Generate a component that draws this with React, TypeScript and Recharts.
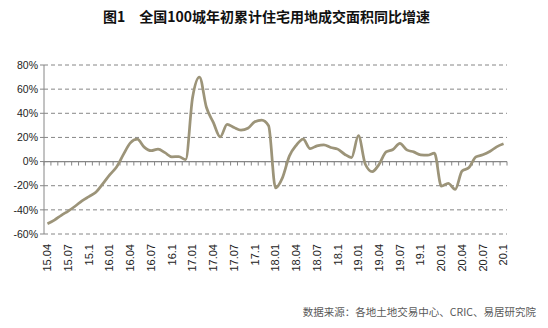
import { CartesianGrid, Line, LineChart, ReferenceLine, XAxis, YAxis } from 'recharts';

const months = [
  '15.04', '15.05', '15.06', '15.07', '15.08', '15.09', '15.1', '15.11', '15.12',
  '16.01', '16.02', '16.03', '16.04', '16.05', '16.06', '16.07', '16.08', '16.09', '16.1', '16.11', '16.12',
  '17.01', '17.02', '17.03', '17.04', '17.05', '17.06', '17.07', '17.08', '17.09', '17.1', '17.11', '17.12',
  '18.01', '18.02', '18.03', '18.04', '18.05', '18.06', '18.07', '18.08', '18.09', '18.1', '18.11', '18.12',
  '19.01', '19.02', '19.03', '19.04', '19.05', '19.06', '19.07', '19.08', '19.09', '19.1', '19.11', '19.12',
  '20.01', '20.02', '20.03', '20.04', '20.05', '20.06', '20.07', '20.08', '20.09', '20.1'
];

const growth = [
  -51.5, -48.5, -44.5, -41, -37, -32.5, -29, -25.5, -18.5,
  -11, -4.5, 6, 15.5, 18.5, 12, 9, 10.4, 7.4, 3.9, 4.1, 1.7,
  53, 70, 45, 32.5, 20.4, 30.9, 28.2, 26, 27.6, 32.9, 34.3, 29.6,
  -21.7, -13.5, 4.5, 13.5, 18.6, 10.8, 13, 13.9, 11.7, 10.3, 6.1, 3.3,
  21.4, -2.2, -8.3, -2.2, 8, 10, 15, 9.7, 8, 5.6, 5.3, 7,
  -20.3, -18, -23, -7.8, -5, 3.9, 5.6, 8.3, 12.2, 14.7
];

const yTicks = [-60, -40, -20, 0, 20, 40, 60, 80];

const data = months.map((month, idx) => ({ idx, month, value: growth[idx] }));
const labelTicks = data.filter((d) => d.idx % 3 === 0).map((d) => d.idx);
const boundaries = [...data.map((d) => d.idx - 0.5), data.length - 0.5];

const axisColor = '#868686';

function MonthTick(props: any) {
  const { x, y, payload } = props;
  const ty = y + 8;
  return (
    <text
      x={x}
      y={ty}
      transform={`rotate(-90, ${x}, ${ty})`}
      textAnchor="end"
      dy="0.35em"
      fontSize={11}
      fontFamily="Liberation Sans, Arial, sans-serif"
      fill="#222"
    >
      {months[payload.value]}
    </text>
  );
}

export default function App() {
  return (
    <div style={{ position: 'relative', width: 540, height: 320 }}>
      <div
        style={{
          position: 'absolute',
          left: 0,
          top: 0,
          width: 517,
          textAlign: 'center',
          fontFamily: '"Noto Sans CJK SC", sans-serif',
          fontWeight: 700,
          fontSize: 14,
          lineHeight: '16px',
          color: '#111',
        }}
      >
        图1　全国100城年初累计住宅用地成交面积同比增速
      </div>
      <LineChart width={540} height={320} data={data} margin={{ top: 57, right: 41, bottom: 0, left: 0 }}>
        <CartesianGrid vertical={false} stroke={axisColor} strokeDasharray="4 3" />
        <XAxis
          dataKey="idx"
          type="number"
          domain={[-0.5, data.length - 0.5]}
          ticks={labelTicks}
          interval={0}
          axisLine={false}
          tickLine={false}
          tickSize={0}
          height={94}
          tick={<MonthTick />}
        />
        <YAxis
          domain={[-60, 80]}
          ticks={yTicks}
          width={36}
          tickSize={4}
          tickMargin={2}
          tickFormatter={(v) => `${v}%`}
          axisLine={{ stroke: axisColor }}
          tickLine={{ stroke: axisColor }}
          tick={{ fontSize: 10.5, fill: '#222', fontFamily: 'Liberation Sans, Arial, sans-serif' }}
        />
        <ReferenceLine y={0} stroke={axisColor} strokeWidth={1.2} />
        {boundaries.map((b) => (
          <ReferenceLine
            key={b}
            segment={[
              { x: b, y: 0 },
              { x: b, y: -3.3 },
            ]}
            stroke={axisColor}
          />
        ))}
        <Line
          type="monotone"
          dataKey="value"
          stroke="#9c9479"
          strokeWidth={2.75}
          dot={false}
          isAnimationActive={false}
        />
      </LineChart>
      <div
        style={{
          position: 'absolute',
          right: 12,
          top: 296,
          fontFamily: '"Noto Sans CJK SC", sans-serif',
          fontSize: 10.5,
          color: '#595959',
        }}
      >
        数据来源：各地土地交易中心、CRIC、易居研究院
      </div>
    </div>
  );
}
